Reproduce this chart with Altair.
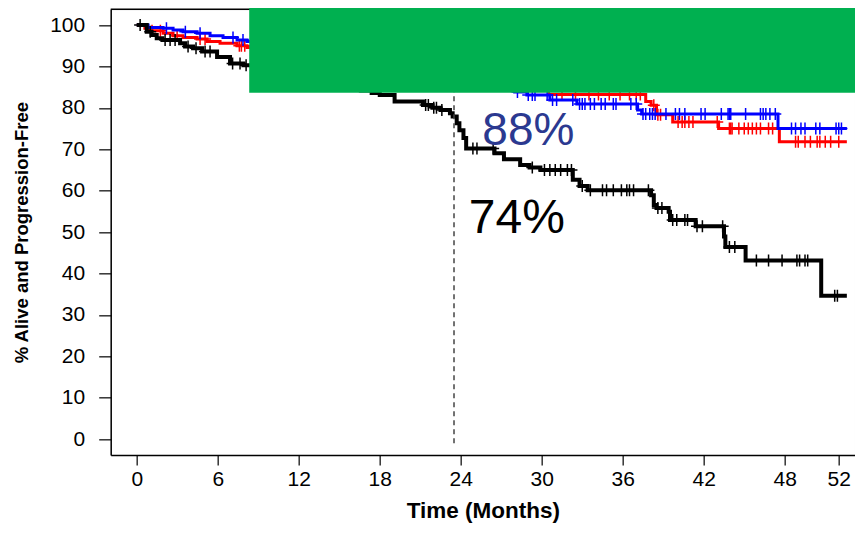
import altair as alt
import pandas as pd

# ---- Kaplan-Meier step points (month, % alive and progression-free) ----
black_t = [0, 0.74, 1.1, 1.48, 1.9, 3.21, 3.58, 4.17, 4.84, 5.95, 6.91, 7.9, 9.5, 11.0, 12.5,
           14.0, 15.5, 16.6, 17.4, 18.0, 19.1, 21.2, 21.9, 22.5, 23.2, 23.4, 23.7, 23.9, 24.2, 24.4,
           26.5, 27.2, 28.4, 29.1, 29.9, 32.3, 32.8, 33.4, 38.1, 38.3, 38.5, 39.4, 39.5, 41.4, 43.5,
           43.6, 45.1, 50.7, 52.6]
black_v = [100, 98.4, 97.6, 96.8, 96.4, 95.6, 94.8, 94.4, 93.6, 92.3, 90.7, 90.3, 89.5, 88.3, 87.5,
           86.2, 85.3, 84.2, 83.6, 83.1, 81.5, 80.7, 80.0, 79.5, 78.7, 77.9, 76.3, 74.6, 72.7, 70.2,
           69.0, 67.6, 66.2, 65.6, 65.0, 62.6, 61.1, 60.1, 58.9, 56.5, 55.8, 54.9, 52.9, 51.4, 48.9,
           46.4, 43.1, 34.6, 34.6]

blue_t = [0, 0.84, 1.95, 2.69, 3.43, 4.47, 5.43, 6.39, 7.43, 8.17, 10.0, 12.0, 14.5, 17.0, 19.5,
          21.5, 24.5, 26.5, 28.0, 28.9, 30.6, 32.6, 37.1, 37.4, 47.5, 52.6]
blue_v = [100, 99.4, 99.2, 98.8, 98.4, 98.0, 97.4, 97.0, 96.4, 96.0, 95.2, 94.0, 92.8, 91.4, 89.8,
          88.4, 86.5, 85.0, 83.8, 83.1, 81.9, 80.9, 79.5, 78.5, 75.0, 75.0]

red_t = [0, 0.6, 0.99, 1.95, 2.69, 3.43, 4.47, 5.21, 6.17, 7.43, 8.17, 10.0, 12.5, 15.0, 17.5,
         20.0, 23.0, 25.5, 28.0, 30.5, 37.7, 38.1, 38.5, 39.7, 43.1, 47.6, 52.6]
red_v = [100, 99.2, 98.6, 98.0, 97.4, 97.0, 96.6, 96.0, 95.6, 95.0, 94.6, 93.8, 92.6, 91.3, 90.0,
         88.9, 88.0, 86.6, 85.0, 83.2, 81.5, 80.6, 78.3, 76.6, 75.0, 71.8, 71.8]

# ---- censoring times (months) ----
black_cens = [0.25, 1.0, 2.1, 2.47, 2.84, 3.8, 4.39, 5.06, 5.43, 7.1, 7.65, 8.1, 10.2, 13.1, 16.0,
              21.4, 21.6, 22.0, 22.2, 22.6, 24.9, 25.2, 26.4, 29.3, 30.2, 30.6, 31.0, 31.4, 31.9,
              32.2, 33.0, 33.6, 34.5, 34.8, 35.3, 35.9, 36.3, 36.5, 36.8, 37.9, 38.6, 38.9, 39.7,
              40.0, 40.6, 40.8, 41.5, 41.9, 43.4, 43.9, 44.3, 45.9, 46.8, 47.8, 48.9, 49.1, 49.5,
              49.7, 51.7, 51.9]
blue_cens = [2.2, 3.6, 4.69, 7.13, 7.87, 11.0, 15.5, 20.0, 25.0, 28.2, 29.0, 29.3, 29.5, 30.4,
             30.8, 31.1, 32.3, 32.8, 33.0, 33.2, 33.6, 33.9, 34.4, 34.7, 35.3, 35.5, 36.6, 37.0,
             37.5, 37.7, 38.0, 38.2, 38.4, 39.2, 39.9, 40.2, 40.6, 41.8, 42.1, 43.3, 43.8, 43.9,
             44.0, 45.1, 46.2, 46.4, 46.6, 46.9, 47.3, 48.5, 48.8, 49.2, 49.5, 50.3, 50.6, 51.8,
             52.0, 52.2]
red_cens = [1.13, 1.75, 2.99, 4.69, 5.06, 7.6, 7.75, 8.0, 11.5, 16.0, 21.0, 27.0, 31.5, 32.5,
            33.5, 34.2, 35.0, 35.8, 36.5, 37.0, 37.3, 38.3, 38.6, 38.8, 40.1, 40.4, 40.6, 40.9,
            41.2, 43.0, 43.9, 44.0, 44.1, 44.6, 45.0, 45.3, 45.6, 45.9, 46.2, 46.8, 47.1, 48.8,
            49.0, 49.5, 49.9, 50.4, 50.6, 51.0, 51.4, 52.0]

x_ticks = [0, 6, 12, 18, 24, 30, 36, 42, 48, 52]
y_ticks = [0, 10, 20, 30, 40, 50, 60, 70, 80, 90, 100]

landmark_month = 23.5
label_88 = {"t": 25.6, "v": 71.0, "text": "88%"}
label_74 = {"t": 24.6, "v": 49.8, "text": "74%"}

X_DOM = [-1.93, 53.2]
Y_DOM = [-3.86, 103.8]
PX_PER_MONTH = 13.5
FONT = "Liberation Sans"


def step_value(ts, vs, t):
    val = vs[0]
    for ti, vi in zip(ts, vs):
        if ti <= t:
            val = vi
    return val


def curve_df(ts, vs):
    return pd.DataFrame({"t": ts, "v": vs})


def cens_df(ts, vs, cens):
    return pd.DataFrame({"t": cens, "v": [step_value(ts, vs, c) for c in cens]})


xs = alt.Scale(domain=X_DOM, nice=False, zero=False)
ys = alt.Scale(domain=Y_DOM, nice=False, zero=False)

x_axis = alt.Axis(values=x_ticks, title="Time (Months)", grid=False, tickSize=10,
                  labelPadding=4, titlePadding=10, labelFontSize=21, titleFontSize=22.5,
                  labelFont=FONT, titleFont=FONT, titleFontWeight="bold",
                  domainColor="black", domainWidth=1.5, tickColor="#333", tickWidth=1.5,
                  labelColor="black", titleColor="black", labelFlush=False)
y_axis = alt.Axis(values=y_ticks, title="% Alive and Progression-Free", grid=False, tickSize=12,
                  labelPadding=14, titlePadding=18, labelFontSize=21, titleFontSize=18.5,
                  labelFont=FONT, titleFont=FONT, titleFontWeight="bold",
                  domainColor="black", domainWidth=1.5, tickColor="#333", tickWidth=1.5,
                  labelColor="black", titleColor="black", labelFlush=False)

X = lambda: alt.X("t:Q", scale=xs, axis=x_axis)
Y = lambda: alt.Y("v:Q", scale=ys, axis=y_axis)

plus = "M-1,0H1M0,-1V1"


def km_layers(ts, vs, cens, color, width):
    line = alt.Chart(curve_df(ts, vs)).mark_line(
        interpolate="step-after", color=color, strokeWidth=width
    ).encode(x=X(), y=Y())
    pts = alt.Chart(cens_df(ts, vs, cens)).mark_point(
        shape=plus, size=144, filled=False, color=color, strokeWidth=1.5, opacity=1
    ).encode(x=X(), y=Y())
    return [line, pts]


layers = []
layers += km_layers(red_t, red_v, red_cens, "#FF0000", 3)
layers += km_layers(blue_t, blue_v, blue_cens, "#0000FF", 3)
layers += km_layers(black_t, black_v, black_cens, "#000000", 4)

dash = alt.Chart(pd.DataFrame({"t": [landmark_month], "v": [-1.0], "v2": [88.0]})).mark_rule(
    color="#444444", strokeDash=[5, 4], strokeWidth=1.5
).encode(x=X(), y=Y(), y2="v2:Q")

t88 = alt.Chart(pd.DataFrame([label_88])).mark_text(
    align="left", baseline="alphabetic", font=FONT, fontSize=46, color="#2B3990"
).encode(x=X(), y=Y(), text="text:N")
t74 = alt.Chart(pd.DataFrame([label_74])).mark_text(
    align="left", baseline="alphabetic", font=FONT, fontSize=48, color="#000000"
).encode(x=X(), y=Y(), text="text:N")

top_frame = alt.Chart(pd.DataFrame({"t": [X_DOM[0]], "t2": [X_DOM[1]], "v": [Y_DOM[1]]})).mark_rule(
    color="black", strokeWidth=1.5
).encode(x=X(), x2="t2:Q", y=Y())

green = alt.Chart(pd.DataFrame({"t": [8.33], "t2": [60.0], "v": [83.65], "v2": [115.0]})).mark_rect(
    color="#00B050", clip=False
).encode(x=X(), x2="t2:Q", y=Y(), y2="v2:Q")

chart = alt.layer(*layers, dash, t88, t74, top_frame, green).properties(
    width=(X_DOM[1] - X_DOM[0]) * PX_PER_MONTH,
    height=445.7,
    padding={"left": 102.7, "top": 1.3, "right": 0, "bottom": 70},
    autosize=alt.AutoSizeParams(type="none"),
).configure_view(stroke=None).configure(background="white")

chart.save("out.html", embed_options={"renderer": "svg", "actions": False})
